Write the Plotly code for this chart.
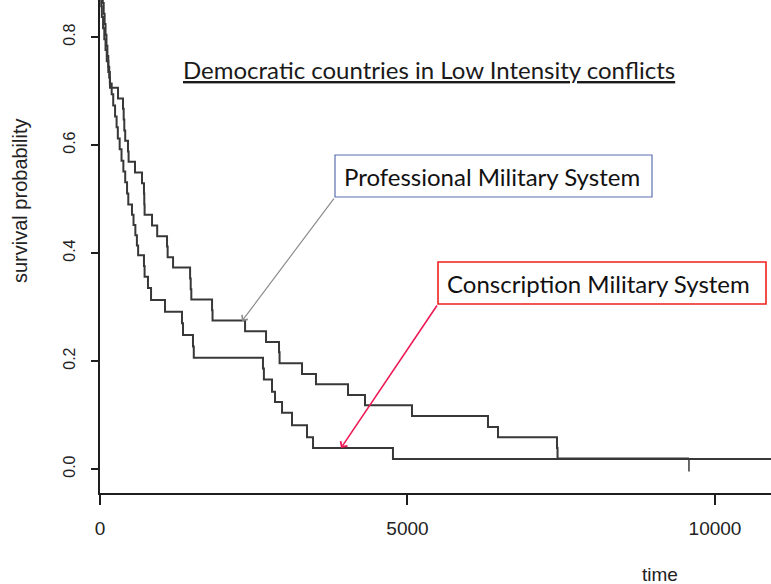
import plotly.graph_objects as go

# ---- data ----
prof_time = [0, 5, 10, 15, 20, 25, 35, 45, 60, 75, 90, 105, 120, 135, 150, 163, 293, 374, 385, 395,
             410, 455, 465, 569, 683, 715, 720, 725, 846, 930, 1090, 1100, 1188, 1465, 1475, 1485,
             1822, 1830, 2359, 2700, 2911, 2920, 3285, 3512, 4033, 4309, 5073, 6309, 6472, 7431,
             7440, 9577]
prof_surv = [1.0, 0.980, 0.961, 0.941, 0.922, 0.902, 0.882, 0.863, 0.843, 0.824, 0.804, 0.784, 0.765,
             0.745, 0.725, 0.706, 0.686, 0.667, 0.647, 0.627, 0.608, 0.588, 0.569, 0.549, 0.529, 0.510,
             0.490, 0.471, 0.451, 0.431, 0.412, 0.392, 0.373, 0.353, 0.333, 0.314, 0.294, 0.275, 0.255,
             0.235, 0.216, 0.196, 0.176, 0.157, 0.137, 0.118, 0.098, 0.078, 0.059, 0.039, 0.0196, 0.0196]
prof_censor_time = [9577]
prof_censor_surv = [0.0196]

cons_time = [0, 3, 6, 9, 12, 14, 16, 20, 30, 50, 70, 90, 110, 135, 160, 190, 215, 245, 270, 290, 320,
             350, 380, 410, 440, 460, 520, 545, 575, 600, 620, 715, 725, 780, 830, 1057, 1333, 1350,
             1512, 1525, 2650, 2665, 2797, 2846, 2960, 3122, 3366, 3464, 4764, 11000]
cons_surv = [1.0, 0.980, 0.959, 0.939, 0.918, 0.898, 0.878, 0.857, 0.837, 0.816, 0.796, 0.776, 0.755,
             0.735, 0.714, 0.694, 0.673, 0.653, 0.633, 0.612, 0.592, 0.571, 0.551, 0.531, 0.510, 0.490,
             0.471, 0.452, 0.433, 0.414, 0.396, 0.376, 0.356, 0.335, 0.313, 0.291, 0.270, 0.248,
             0.227, 0.206, 0.186, 0.166, 0.143, 0.124, 0.104, 0.081, 0.059, 0.039, 0.0185, 0.0185]

x_ticks = [0, 5000, 10000]
x_tick_labels = ["0", "5000", "10000"]
y_ticks = [0.0, 0.2, 0.4, 0.6, 0.8]
y_tick_labels = ["0.0", "0.2", "0.4", "0.6", "0.8"]

title_text = "Democratic countries in Low Intensity conflicts"
prof_label = "Professional Military System"
cons_label = "Conscription Military System"

# ---- styles ----
CURVE = "#383838"
AXIS = "#1e1e1e"
RFONT = "Liberation Sans, Arial, sans-serif"
CFONT = "Lato, Open Sans, sans-serif"
censor_depth = 0.024

fig = go.Figure()
fig.add_trace(go.Scatter(x=prof_time, y=prof_surv, mode="lines", line=dict(color=CURVE, width=2, shape="hv"),
                         hoverinfo="skip", showlegend=False))
fig.add_trace(go.Scatter(x=cons_time, y=cons_surv, mode="lines", line=dict(color=CURVE, width=2, shape="hv"),
                         hoverinfo="skip", showlegend=False))
# censor tick on the professional curve
for ct, cs in zip(prof_censor_time, prof_censor_surv):
    fig.add_trace(go.Scatter(x=[ct, ct], y=[cs, cs - censor_depth], mode="lines",
                             line=dict(color=CURVE, width=1.5), hoverinfo="skip", showlegend=False))

fig.update_layout(
    width=771, height=584,
    margin=dict(l=100, r=0, t=0, b=91),
    paper_bgcolor="white", plot_bgcolor="white",
    showlegend=False,
    xaxis=dict(range=[0, 10911], tickvals=x_ticks, ticktext=x_tick_labels, showgrid=False, zeroline=False,
               showline=True, linecolor=AXIS, linewidth=1.5, ticks="outside", ticklen=10, tickwidth=1.5,
               tickcolor=AXIS, tickfont=dict(family=RFONT, size=19, color="#222"), ticklabelstandoff=7),
    yaxis=dict(range=[-0.0444, 0.8685], tickvals=y_ticks, ticktext=y_tick_labels, showgrid=False,
               zeroline=False, showline=True, linecolor=AXIS, linewidth=1.5, ticks="outside", ticklen=7,
               tickwidth=1.5, tickcolor=AXIS, tickangle=-90,
               tickfont=dict(family=RFONT, size=16, color="#222"), ticklabelstandoff=10),
)

annotations = [
    dict(text="<u>" + title_text + "</u>", xref="paper", yref="paper", x=(429 - 100) / 671, y=(493 - 70) / 493,
         showarrow=False, font=dict(family=CFONT, size=24, color="#1a1a1a"), xanchor="center", yanchor="middle"),
    dict(text=prof_label, xref="paper", yref="paper", x=(492 - 100) / 671, y=(493 - 176) / 493,
         showarrow=False, font=dict(family=CFONT, size=24, color="#111"), xanchor="center", yanchor="middle"),
    dict(text=cons_label, xref="paper", yref="paper", x=(598 - 100) / 671, y=(493 - 283) / 493,
         showarrow=False, font=dict(family=CFONT, size=24, color="#111"), xanchor="center", yanchor="middle"),
    # arrows
    dict(text="", x=2309, y=0.274, xref="x", yref="y", ax=93, ay=-124, axref="pixel", ayref="pixel",
         showarrow=True, arrowhead=4, arrowsize=1.2, arrowwidth=1.2, arrowcolor="#8c8c8c", standoff=0),
    dict(text="", x=3919, y=0.039, xref="x", yref="y", ax=97, ay=-144, axref="pixel", ayref="pixel",
         showarrow=True, arrowhead=4, arrowsize=1.0, arrowwidth=1.6, arrowcolor="#ee1a55", standoff=0),
    # axis titles
    dict(text="survival probability", xref="paper", yref="paper", x=(20 - 100) / 671, y=(493 - 201) / 493,
         textangle=-90, showarrow=False, font=dict(family=RFONT, size=20, color="#222"),
         xanchor="center", yanchor="middle"),
    dict(text="time", xref="paper", yref="paper", x=(660 - 100) / 671, y=(493 - 574) / 493,
         showarrow=False, font=dict(family=RFONT, size=19, color="#222"), xanchor="center", yanchor="middle"),
]
fig.update_layout(annotations=annotations)

shapes = [
    dict(type="rect", xref="paper", yref="paper", x0=(335 - 100) / 671, x1=(652 - 100) / 671,
         y0=(493 - 197) / 493, y1=(493 - 155) / 493, line=dict(color="#5a6fb0", width=1.2), fillcolor="white",
         layer="above"),
    dict(type="rect", xref="paper", yref="paper", x0=(438 - 100) / 671, x1=(766 - 100) / 671,
         y0=(493 - 304) / 493, y1=(493 - 262) / 493, line=dict(color="#f0201e", width=1.6), fillcolor="white",
         layer="above"),
]
fig.update_layout(shapes=shapes)

fig.write_html("out.html", config={"displayModeBar": False},
               post_script="document.body.style.margin='0px';document.body.style.padding='0px';")
